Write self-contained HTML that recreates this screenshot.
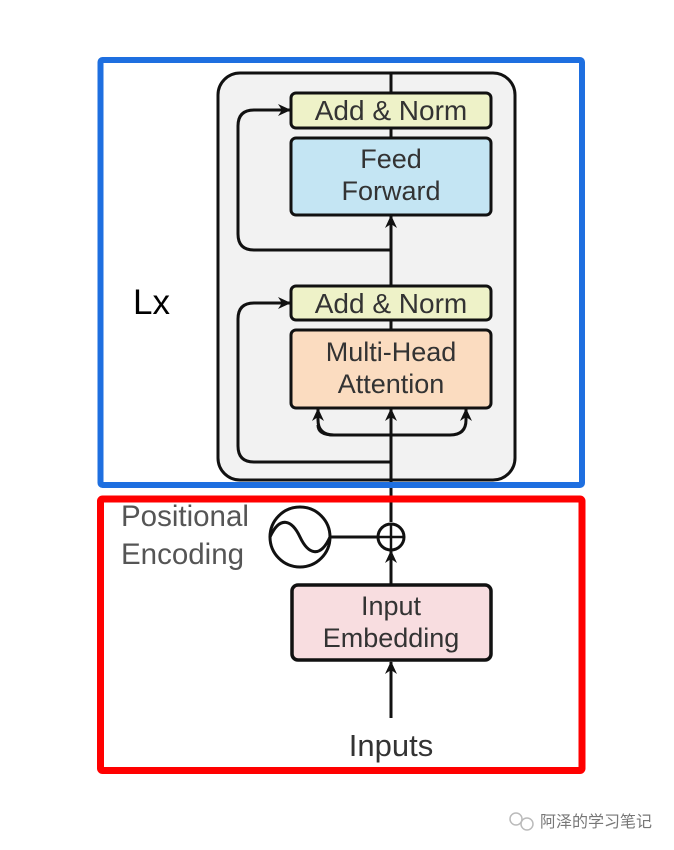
<!DOCTYPE html>
<html><head><meta charset="utf-8"><style>
html,body{margin:0;padding:0;background:#fff;}
svg{display:block;}
text{font-family:"Liberation Sans","Noto Sans CJK SC",sans-serif;}
</style></head><body>
<svg width="674" height="850" viewBox="0 0 674 850" xmlns="http://www.w3.org/2000/svg">
<defs>
<marker id="a" markerWidth="14" markerHeight="14" refX="12" refY="6" orient="auto" markerUnits="userSpaceOnUse"><path d="M0,0 L13,6 L0,12 L4,6 Z" fill="#111"/></marker>
</defs>
<rect x="218" y="73" width="297" height="407" rx="22" fill="#f2f2f2" stroke="#111" stroke-width="3"/>
<line x1="391" y1="73" x2="391" y2="93" stroke="#111" stroke-width="3"/>
<line x1="391" y1="128" x2="391" y2="138" stroke="#111" stroke-width="3"/>
<line x1="391" y1="286" x2="391" y2="216" stroke="#111" stroke-width="3" marker-end="url(#a)"/>
<line x1="391" y1="320" x2="391" y2="330" stroke="#111" stroke-width="3"/>
<line x1="391" y1="522" x2="391" y2="409" stroke="#111" stroke-width="3" marker-end="url(#a)"/>
<path d="M391,250 L254,250 Q238,250 238,234 L238,126 Q238,110 254,110 L290,110" fill="none" stroke="#111" stroke-width="3" marker-end="url(#a)"/>
<path d="M391,462 L254,462 Q238,462 238,446 L238,319 Q238,303 254,303 L290,303" fill="none" stroke="#111" stroke-width="3" marker-end="url(#a)"/>
<path d="M334,435 Q318,435 318,420 L318,409" fill="none" stroke="#111" stroke-width="3" marker-end="url(#a)"/>
<path d="M318,425 Q318,435 334,435 L450,435 Q466,435 466,420 L466,409" fill="none" stroke="#111" stroke-width="3" marker-end="url(#a)"/>
<rect x="291" y="93" width="200" height="35" rx="5" fill="#eef2c8" stroke="#111" stroke-width="3"/>
<text x="391" y="120" font-size="28" fill="#333" text-anchor="middle">Add &amp; Norm</text>
<rect x="291" y="138" width="200" height="77" rx="5" fill="#c4e5f3" stroke="#111" stroke-width="3"/>
<text x="391" y="168" font-size="27" fill="#333" text-anchor="middle">Feed</text>
<text x="391" y="200" font-size="27" fill="#333" text-anchor="middle">Forward</text>
<rect x="291" y="286" width="200" height="34" rx="5" fill="#eef2c8" stroke="#111" stroke-width="3"/>
<text x="391" y="313" font-size="28" fill="#333" text-anchor="middle">Add &amp; Norm</text>
<rect x="291" y="330" width="200" height="78" rx="5" fill="#fbdcc0" stroke="#111" stroke-width="3"/>
<text x="391" y="361" font-size="27" fill="#333" text-anchor="middle">Multi-Head</text>
<text x="391" y="393" font-size="27" fill="#333" text-anchor="middle">Attention</text>
<circle cx="300" cy="537" r="30" fill="#fff" stroke="#111" stroke-width="3"/>
<path d="M270,537 C280,515 292,520 300,537 C308,554 320,559 330,537" fill="none" stroke="#111" stroke-width="3"/>
<line x1="330" y1="537" x2="378" y2="537" stroke="#111" stroke-width="3"/>
<circle cx="391" cy="537" r="13" fill="#fff" stroke="#111" stroke-width="3"/>
<line x1="378" y1="537" x2="404" y2="537" stroke="#111" stroke-width="2.5"/>
<line x1="391" y1="524" x2="391" y2="550" stroke="#111" stroke-width="2.5"/>
<line x1="391" y1="585" x2="391" y2="551" stroke="#111" stroke-width="3" marker-end="url(#a)"/>
<text x="121" y="526" font-size="29.5" fill="#555">Positional</text>
<text x="121" y="564" font-size="29.5" fill="#555">Encoding</text>
<rect x="292" y="585" width="199" height="75" rx="6" fill="#f8dde0" stroke="#111" stroke-width="3.5"/>
<text x="391" y="615" font-size="27" fill="#333" text-anchor="middle">Input</text>
<text x="391" y="647" font-size="27" fill="#333" text-anchor="middle">Embedding</text>
<line x1="391" y1="718" x2="391" y2="662" stroke="#111" stroke-width="3" marker-end="url(#a)"/>
<text x="391" y="756" font-size="31" fill="#333" text-anchor="middle">Inputs</text>
<rect x="100.5" y="60" width="481.5" height="425" rx="2" fill="none" stroke="#1e6fe0" stroke-width="6"/>
<rect x="100.5" y="499" width="481.5" height="271.5" rx="2" fill="none" stroke="#ff0000" stroke-width="7"/>
<text x="133" y="314" font-size="35" fill="#000">Lx</text>
<circle cx="516" cy="819" r="6" fill="none" stroke="#bbb" stroke-width="1.5"/>
<circle cx="527" cy="824" r="6" fill="none" stroke="#bbb" stroke-width="1.5"/>
<text x="540" y="827" font-size="16" fill="#777">阿泽的学习笔记</text>
</svg>
</body></html>
